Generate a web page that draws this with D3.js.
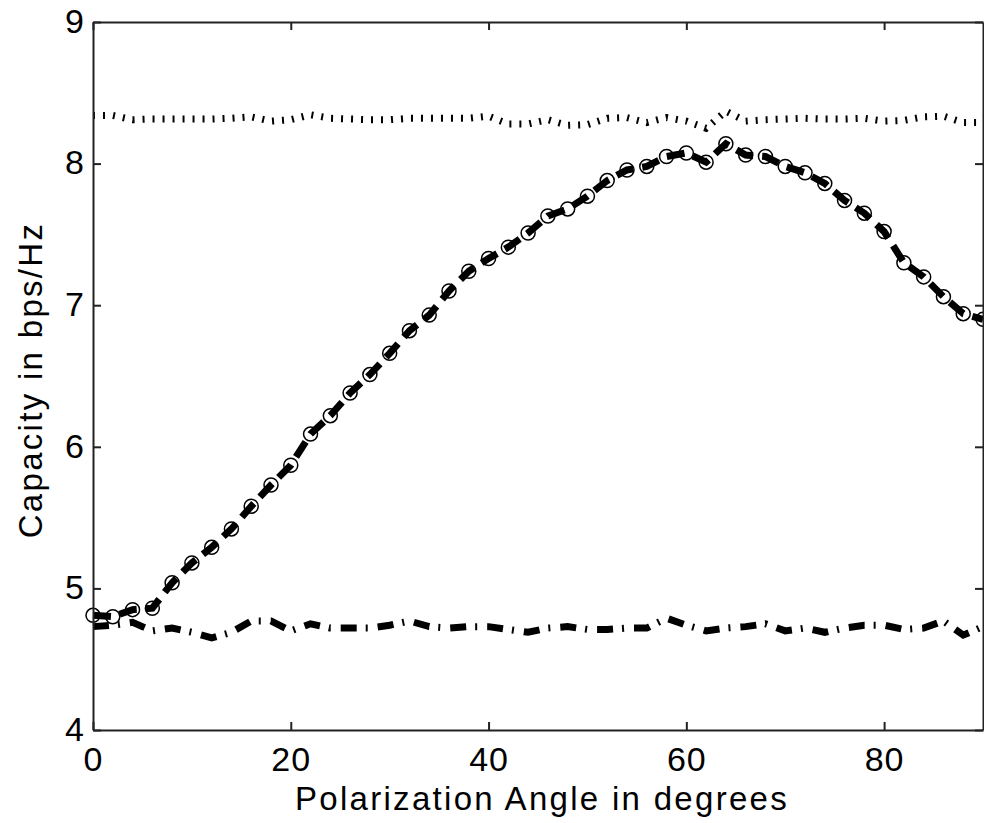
<!DOCTYPE html>
<html><head><meta charset="utf-8">
<script src="https://cdn.jsdelivr.net/npm/d3@7"></script>
<style>body{margin:0;background:#fff;} text{font-family:"Liberation Sans",Arial,sans-serif;}</style>
</head><body>
<svg id="c" width="984" height="823"></svg>
<script>
const angles = d3.range(0, 91, 2);
const upperBound = [8.34,8.34,8.31,8.315,8.315,8.315,8.315,8.32,8.33,8.30,8.31,8.345,8.32,8.315,8.31,8.31,8.32,8.32,8.32,8.32,8.335,8.28,8.28,8.31,8.27,8.275,8.32,8.325,8.29,8.325,8.30,8.25,8.37,8.30,8.31,8.315,8.32,8.315,8.315,8.32,8.30,8.305,8.33,8.335,8.29,8.29];
const adaptive = [4.81,4.80,4.85,4.86,5.04,5.18,5.29,5.42,5.58,5.73,5.87,6.09,6.22,6.38,6.51,6.66,6.82,6.93,7.10,7.24,7.33,7.41,7.51,7.63,7.68,7.77,7.88,7.955,7.98,8.05,8.075,8.01,8.14,8.06,8.05,7.98,7.935,7.86,7.74,7.65,7.52,7.30,7.20,7.06,6.94,6.90];
const fixedPol = [4.73,4.74,4.76,4.70,4.72,4.69,4.65,4.69,4.77,4.77,4.70,4.75,4.72,4.72,4.72,4.74,4.77,4.73,4.72,4.73,4.73,4.71,4.69,4.72,4.73,4.71,4.71,4.72,4.72,4.79,4.74,4.70,4.72,4.73,4.75,4.70,4.72,4.69,4.72,4.74,4.74,4.71,4.72,4.77,4.67,4.73];
const xTicks = [0,20,40,60,80];
const yTicks = [4,5,6,7,8,9];
const xLabel = "Polarization Angle in degrees";
const yLabel = "Capacity in bps/Hz";

const L=93, R=983, T=22, B=730;
const svg = d3.select("#c");
const x = d3.scaleLinear().domain([0,90]).range([L,R]);
const y = d3.scaleLinear().domain([4,9]).range([B,T]);

const g = svg.append("g");
const line = d3.line().x((d,i)=>x(angles[i])).y(d=>y(d));

g.append("path").datum(upperBound).attr("d",line).attr("fill","none")
  .attr("stroke","#000").attr("stroke-width",7).attr("stroke-dasharray","2 8");
g.append("path").datum(fixedPol).attr("d",line).attr("fill","none")
  .attr("stroke","#000").attr("stroke-width",7).attr("stroke-dasharray","16 9 2 10");
g.append("path").datum(adaptive).attr("d",line).attr("fill","none")
  .attr("stroke","#000").attr("stroke-width",7).attr("stroke-dasharray","18 9");
g.selectAll("circle.m").data(adaptive).enter().append("circle")
  .attr("cx",(d,i)=>x(angles[i])).attr("cy",d=>y(d)).attr("r",7)
  .attr("fill","none").attr("stroke","#000").attr("stroke-width",1.5);

// axes
const tk = 8;
const fmt = d3.format("d");
const ax = svg.append("g").attr("transform",`translate(0,${B})`)
  .call(d3.axisBottom(x).tickValues(xTicks).tickFormat(fmt).tickSize(-tk).tickPadding(17).tickSizeOuter(0));
const axT = svg.append("g").attr("transform",`translate(0,${T})`)
  .call(d3.axisTop(x).tickValues(xTicks).tickSize(-tk).tickFormat("").tickSizeOuter(0));
const ay = svg.append("g").attr("transform",`translate(${L},0)`)
  .call(d3.axisLeft(y).tickValues(yTicks).tickFormat(fmt).tickSize(-tk).tickPadding(8).tickSizeOuter(0));
const ayR = svg.append("g").attr("transform",`translate(${R},0)`)
  .call(d3.axisRight(y).tickValues(yTicks).tickSize(-tk).tickFormat("").tickSizeOuter(0));
[ax,axT,ay,ayR].forEach(a=>{
  a.select(".domain").attr("stroke","#222").attr("stroke-width",2);
  a.selectAll(".tick line").attr("stroke","#222").attr("stroke-width",2);
  a.selectAll("text").attr("fill","#000").style("font-size","34px").style("letter-spacing","1px");
});
ax.selectAll("text").attr("dy","0.71em");
ay.selectAll("text").attr("dy","0.3em");

svg.append("text").attr("x",(L+R)/2+4).attr("y",810).attr("text-anchor","middle")
  .style("font-size","33px").style("letter-spacing","2.3px").attr("fill","#000").text(xLabel);
svg.append("text").attr("transform",`translate(42,${(T+B)/2+4}) rotate(-90)`).attr("text-anchor","middle")
  .style("font-size","33px").style("letter-spacing","2.3px").attr("fill","#000").text(yLabel);
</script>
</body></html>
